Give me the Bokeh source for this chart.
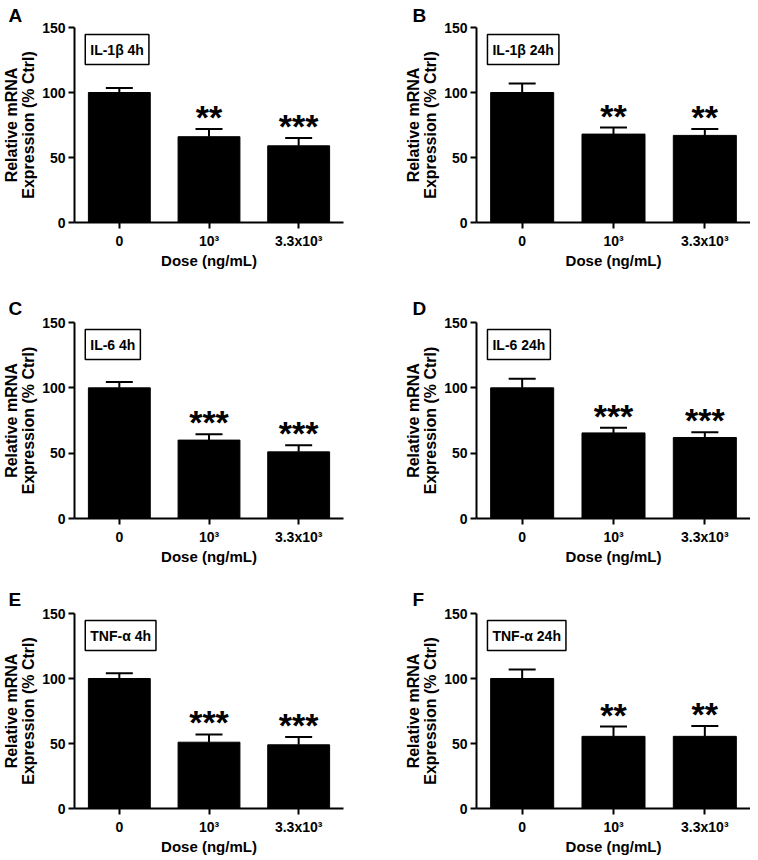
from bokeh.plotting import figure
from bokeh.models import Range1d, FixedTicker, Whisker, TeeHead, Label, ColumnDataSource
from bokeh.layouts import column, row
from bokeh.embed import file_html
from bokeh.resources import INLINE
from bokeh.core.properties import value

# ---------------- data ----------------
doses = ["0", "10³", "3.3x10³"]
y_ticks = [0, 50, 100, 150]

letters = ["A", "B", "C", "D", "E", "F"]
titles = ["IL-1β 4h", "IL-1β 24h", "IL-6 4h", "IL-6 24h", "TNF-α 4h", "TNF-α 24h"]

il1b_4h_mean = [100, 66, 59]
il1b_4h_sem = [3.5, 6, 6]
il1b_4h_sig = ["", "**", "***"]

il1b_24h_mean = [100, 68, 67]
il1b_24h_sem = [7, 5, 5]
il1b_24h_sig = ["", "**", "**"]

il6_4h_mean = [100, 60, 51]
il6_4h_sem = [4.5, 4.5, 5]
il6_4h_sig = ["", "***", "***"]

il6_24h_mean = [100, 65.5, 62]
il6_24h_sem = [7, 4, 4]
il6_24h_sig = ["", "***", "***"]

tnf_4h_mean = [100, 51, 49]
tnf_4h_sem = [4, 6, 6]
tnf_4h_sig = ["", "***", "***"]

tnf_24h_mean = [100, 55.5, 55.5]
tnf_24h_sem = [7, 7.5, 8]
tnf_24h_sig = ["", "**", "**"]

means = [il1b_4h_mean, il1b_24h_mean, il6_4h_mean, il6_24h_mean, tnf_4h_mean, tnf_24h_mean]
sems = [il1b_4h_sem, il1b_24h_sem, il6_4h_sem, il6_24h_sem, tnf_4h_sem, tnf_24h_sem]
sigs = [il1b_4h_sig, il1b_24h_sig, il6_4h_sig, il6_24h_sig, tnf_4h_sig, tnf_24h_sig]

# ---------------- layout ----------------
FONT = "Liberation Sans"
row_top = [27, 38, 43]
row_frame_h = [195, 196, 195]
row_bottom = [62, 52, 48]
row_title_standoff = [4, 8, 8]
col_left = [66, 97]
col_frame_w = [269, 274]
col_right = [36, 0]
col_title_offset = [-66, -64]


def make_panel(i):
    r, c = divmod(i, 2)
    m, s, sg = means[i], sems[i], sigs[i]
    upper = [a + b for a, b in zip(m, s)]
    src = ColumnDataSource(dict(x=doses, mean=m, upper=upper, sig=sg))

    p = figure(x_range=doses, y_range=Range1d(0, 150),
               frame_width=col_frame_w[c], frame_height=row_frame_h[r],
               min_border_left=col_left[c], min_border_right=col_right[c],
               min_border_top=row_top[r], min_border_bottom=row_bottom[r],
               output_backend="svg", toolbar_location=None, tools="")
    p.outline_line_color = None
    p.xgrid.visible = False
    p.ygrid.visible = False
    p.x_range.range_padding = 0
    p.background_fill_color = "white"
    p.border_fill_color = "white"

    # panel letter as the figure title
    p.title.text = letters[i]
    p.title.align = "left"
    p.title.offset = col_title_offset[c]
    p.title.standoff = row_title_standoff[r]
    p.title.text_font = FONT
    p.title.text_font_style = "bold"
    p.title.text_font_size = "19px"
    p.title.text_color = "black"

    p.vbar(x="x", top="mean", width=0.69, source=src,
           fill_color="black", line_color="black")

    w = Whisker(base="x", lower="mean", upper="upper", source=src,
                line_color="black", line_width=2,
                upper_head=TeeHead(size=27, line_width=2, line_color="black"),
                lower_head=None)
    p.add_layout(w)

    p.text(x="x", y="upper", text="sig", source=src,
           text_font=value(FONT), text_font_style="bold", text_font_size="34px",
           text_align="center", text_baseline="alphabetic", y_offset=-12,
           text_color="black")

    for ax in (p.xaxis[0], p.yaxis[0]):
        ax.axis_line_width = 2
        ax.axis_line_color = "black"
        ax.major_tick_line_width = 2
        ax.major_tick_line_color = "black"
        ax.major_tick_out = 6
        ax.major_tick_in = 0
        ax.minor_tick_line_color = None
        ax.major_label_text_font = FONT
        ax.major_label_text_font_style = "bold"
        ax.major_label_text_font_size = "14px"
        ax.major_label_text_color = "black"
        ax.major_label_standoff = 4
        ax.axis_label_text_font = FONT
        ax.axis_label_text_font_style = "bold"
        ax.axis_label_text_color = "black"
        ax.axis_label_standoff = 0

    p.yaxis.ticker = FixedTicker(ticks=y_ticks)
    p.yaxis.axis_label = "Relative mRNA\nExpression (% Ctrl)"
    p.yaxis.axis_label_text_font_size = "16px"
    p.yaxis.axis_label_text_line_height = 1.0
    p.yaxis.axis_label_standoff = 2
    p.yaxis.major_label_standoff = 3
    p.xaxis.axis_label = "Dose (ng/mL)"
    p.xaxis.axis_label_text_font_size = "15px"

    inset = Label(x=0.12, y=150, text=titles[i], x_units="data", y_units="data",
                  text_font=FONT, text_font_style="bold", text_font_size="14px",
                  text_color="black",
                  text_align="left", text_baseline="top", y_offset=-7,
                  border_line_color="black", border_line_width=1.5,
                  background_fill_color="white", padding=(5, 7))
    p.add_layout(inset)
    return p


panels = [make_panel(i) for i in range(6)]
layout = column(row(panels[0], panels[1]), row(panels[2], panels[3]), row(panels[4], panels[5]))

open("out.html", "w").write(file_html(layout, INLINE))
